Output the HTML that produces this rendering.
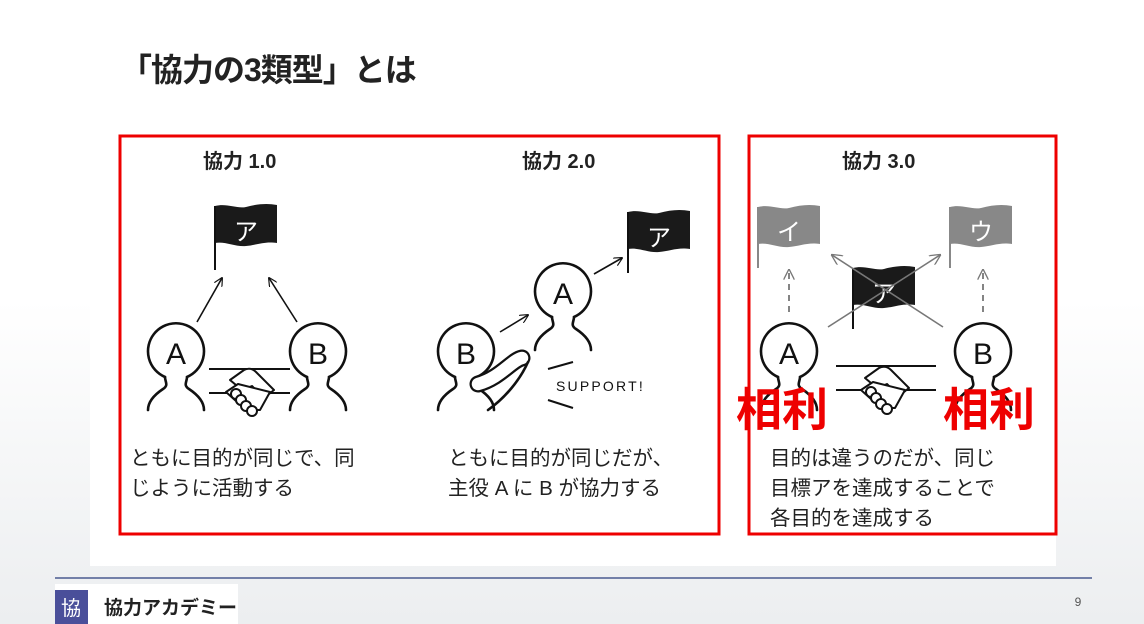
<!DOCTYPE html>
<html><head><meta charset="utf-8"><style>
html,body{margin:0;padding:0}
body{width:1144px;height:624px;overflow:hidden;background:linear-gradient(#fff 0,#fff 300px,#eceef0 624px);font-family:"Liberation Sans","Noto Sans CJK JP",sans-serif;position:relative}
svg{position:absolute;left:0;top:0}
</style></head><body>
<svg width="1144" height="624" viewBox="0 0 1144 624" font-family="Liberation Sans, Noto Sans CJK JP, sans-serif">
<defs>
<g id="person" fill="none" stroke="#111" stroke-width="2.6" stroke-linecap="round">
<path d="M-11,25 A28,28 0 1 1 11,25 C11,30 7,33 13,37 C22,43 28,50 28,58"/>
<path d="M-11,25 C-11,30 -7,33 -13,37 C-22,43 -28,50 -28,58"/>
</g>
<path id="flagshape" d="M0,0 C12,-3 22,3 31,1 C42,-2 52,-3 62,-1 L62,37 C50,35 42,39 31,40 C20,41 10,35 0,37 Z"/>
<g id="hand" fill="#fff" stroke="#111" stroke-width="2" stroke-linejoin="round">
<path d="M-20,-6 L-6,-16 C-2,-18 2,-18 6,-14 L24,4 L14,12 L2,0 L-8,4 Z"/>
<path d="M-24,6 L-12,-2 L20,6 L10,24 L-4,24 Z"/>
<circle cx="-14" cy="8" r="5"/><circle cx="-9" cy="14" r="5"/><circle cx="-4" cy="20" r="5"/><circle cx="2" cy="25" r="5"/>
</g>
<marker id="ar" viewBox="0 0 10 10" refX="9" refY="5" markerWidth="9" markerHeight="9" orient="auto" markerUnits="userSpaceOnUse"><path d="M0,0 L10,5 L0,10" fill="none" stroke="#111" stroke-width="1.3"/></marker>
<marker id="arg" viewBox="0 0 10 10" refX="9" refY="5" markerWidth="11" markerHeight="11" orient="auto" markerUnits="userSpaceOnUse"><path d="M0,0 L10,5 L0,10" fill="none" stroke="#777" stroke-width="1.2"/></marker>
</defs>

<text x="120" y="81" font-size="32" font-weight="bold" fill="#222" letter-spacing="-1">「協力の3類型」とは</text>
<rect x="90" y="120" width="966" height="446" fill="#fff"/>
<rect x="120" y="136" width="599" height="398" fill="none" stroke="#e00" stroke-width="3"/>
<rect x="749" y="136" width="307" height="398" fill="none" stroke="#e00" stroke-width="3"/>

<g font-size="20" font-weight="bold" fill="#222">
<text x="203" y="168">協力 1.0</text>
<text x="522" y="168">協力 2.0</text>
<text x="842" y="168">協力 3.0</text>
</g>

<!-- panel 1 -->
<use href="#flagshape" x="215" y="206" fill="#1a1a1a"/>
<line x1="215" y1="206" x2="215" y2="270" stroke="#111" stroke-width="2"/>
<text x="246" y="240" font-size="24" fill="#fff" text-anchor="middle">ア</text>
<line x1="197" y1="322" x2="222" y2="278" stroke="#111" stroke-width="1.6" marker-end="url(#ar)"/>
<line x1="297" y1="322" x2="269" y2="278" stroke="#111" stroke-width="1.6" marker-end="url(#ar)"/>
<use href="#person" x="176" y="352"/>
<use href="#person" x="318" y="352"/>
<text x="176" y="364" font-size="30" text-anchor="middle" fill="#111">A</text>
<text x="318" y="364" font-size="30" text-anchor="middle" fill="#111">B</text>
<line x1="209" y1="369" x2="290" y2="369" stroke="#111" stroke-width="2"/>
<line x1="209" y1="393" x2="290" y2="393" stroke="#111" stroke-width="2"/>
<use href="#hand" x="250" y="386"/>

<!-- panel 2 -->
<use href="#flagshape" x="628" y="212" fill="#1a1a1a"/>
<line x1="628" y1="212" x2="628" y2="273" stroke="#111" stroke-width="2"/>
<text x="659" y="246" font-size="24" fill="#fff" text-anchor="middle">ア</text>
<use href="#person" x="563" y="292"/>
<text x="563" y="304" font-size="30" text-anchor="middle" fill="#111">A</text>
<use href="#person" x="466" y="352"/>
<text x="466" y="364" font-size="30" text-anchor="middle" fill="#111">B</text>
<line x1="500" y1="332" x2="528" y2="315" stroke="#111" stroke-width="1.6" marker-end="url(#ar)"/>
<line x1="594" y1="274" x2="622" y2="258" stroke="#111" stroke-width="1.6" marker-end="url(#ar)"/>
<path d="M478,384 C500,378 512,360 522,358" fill="none" stroke="#111" stroke-width="17" stroke-linecap="round"/>
<path d="M478,384 C500,378 512,360 522,358" fill="none" stroke="#fff" stroke-width="12.5" stroke-linecap="round"/>
<path d="M528,362 C520,380 505,398 488,410" fill="none" stroke="#111" stroke-width="2.6" stroke-linecap="round"/>
<line x1="548" y1="369" x2="573" y2="362" stroke="#111" stroke-width="2"/>
<line x1="548" y1="400" x2="573" y2="408" stroke="#111" stroke-width="2"/>
<text x="556" y="391" font-size="14" letter-spacing="2.2" fill="#111">SUPPORT!</text>

<!-- panel 3 -->
<use href="#flagshape" x="758" y="207" fill="#888"/>
<line x1="758" y1="207" x2="758" y2="268" stroke="#888" stroke-width="2"/>
<text x="789" y="240" font-size="24" fill="#fff" text-anchor="middle">イ</text>
<use href="#flagshape" x="950" y="207" fill="#888"/>
<line x1="950" y1="207" x2="950" y2="268" stroke="#888" stroke-width="2"/>
<text x="981" y="240" font-size="24" fill="#fff" text-anchor="middle">ウ</text>
<use href="#flagshape" x="853" y="268" fill="#1a1a1a"/>
<line x1="853" y1="268" x2="853" y2="329" stroke="#111" stroke-width="2"/>
<text x="884" y="302" font-size="24" fill="#fff" text-anchor="middle">ア</text>
<line x1="828" y1="327" x2="940" y2="255" stroke="#777" stroke-width="1.6" marker-end="url(#arg)"/>
<line x1="943" y1="327" x2="832" y2="255" stroke="#777" stroke-width="1.6" marker-end="url(#arg)"/>
<line x1="789" y1="312" x2="789" y2="270" stroke="#666" stroke-width="1.6" stroke-dasharray="6,5" marker-end="url(#arg)"/>
<line x1="983" y1="312" x2="983" y2="270" stroke="#666" stroke-width="1.6" stroke-dasharray="6,5" marker-end="url(#arg)"/>
<use href="#person" x="789" y="352"/>
<text x="789" y="364" font-size="30" text-anchor="middle" fill="#111">A</text>
<use href="#person" x="983" y="352"/>
<text x="983" y="364" font-size="30" text-anchor="middle" fill="#111">B</text>
<line x1="836" y1="366" x2="936" y2="366" stroke="#111" stroke-width="2"/>
<line x1="836" y1="390" x2="936" y2="390" stroke="#111" stroke-width="2"/>
<use href="#hand" x="885" y="384"/>
<g font-size="46" font-weight="bold" fill="#e00">
<text x="736" y="426">相利</text>
<text x="943" y="426">相利</text>
</g>

<g font-size="20.5" fill="#222">
<text x="130" y="465">ともに目的が同じで、同</text>
<text x="130" y="495">じように活動する</text>
<text x="448" y="465">ともに目的が同じだが、</text>
<text x="448" y="495">主役 A に B が協力する</text>
<text x="770" y="465">目的は違うのだが、同じ</text>
<text x="770" y="495">目標アを達成することで</text>
<text x="770" y="525">各目的を達成する</text>
</g>

<line x1="55" y1="578" x2="1092" y2="578" stroke="#4a5a90" stroke-width="1.5"/>
<rect x="55" y="584" width="183" height="40" fill="#fff"/>
<rect x="55" y="590" width="33" height="34" fill="#4a4f9a"/>
<text x="71" y="615" font-size="20" fill="#fff" text-anchor="middle">協</text>
<text x="104" y="614" font-size="19" font-weight="bold" fill="#222">協力アカデミー</text>
<text x="1078" y="606" font-size="12" fill="#555" text-anchor="middle">9</text>
</svg>
</body></html>
